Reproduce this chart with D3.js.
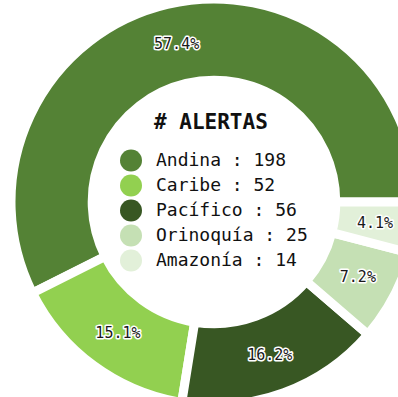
<!DOCTYPE html>
<html>
<head>
<meta charset="utf-8">
<script src="https://cdn.jsdelivr.net/npm/d3@7"></script>
<style>
  html, body { margin: 0; padding: 0; background: #fff; }
  svg { display: block; overflow: hidden; }
</style>
</head>
<body>
<svg id="chart" width="398" height="397"></svg>
<script>
// Alertas por región
const regiones = ["Andina", "Caribe", "Pacífico", "Orinoquía", "Amazonía"];
const alertas = [198, 52, 56, 25, 14];
const titulo = "# ALERTAS";

const paleta = ["#548235", "#92d050", "#385723", "#c5e0b4", "#e2f0d9"];

const W = 398, H = 397;
const cx = 214, cy = 202;
const R = 203, r = R * 0.6;

const svg = d3.select("#chart");
const g = svg.append("g").attr("transform", `translate(${cx},${cy})`);

const total = d3.sum(alertas);
const datos = regiones.map((region, i) => ({ region, valor: alertas[i] }));

const color = d3.scaleOrdinal().domain(regiones).range(paleta);

// Starts at 3 o'clock and runs counter-clockwise
const pie = d3.pie()
  .value(d => d.valor)
  .sort(null)
  .startAngle(Math.PI / 2)
  .endAngle(Math.PI / 2 - 2 * Math.PI);

const arcos = pie(datos);

const arc = d3.arc().innerRadius(r).outerRadius(R);
const arcEtiqueta = d3.arc().innerRadius(R * 0.8).outerRadius(R * 0.8);

g.selectAll("path.cuña")
  .data(arcos)
  .join("path")
  .attr("class", "cuña")
  .attr("d", arc)
  .attr("fill", d => color(d.data.region))
  .attr("stroke", "#fff")
  .attr("stroke-width", 9)
  .attr("stroke-linejoin", "miter");

const fmt = d3.format(".1f");

g.selectAll("text.pct")
  .data(arcos)
  .join("text")
  .attr("class", "pct")
  .attr("transform", d => `translate(${arcEtiqueta.centroid(d)})`)
  .attr("text-anchor", "middle")
  .attr("dominant-baseline", "central")
  .attr("font-family", "'DejaVu Sans Mono', monospace")
  .attr("font-size", 15)
  .attr("fill", "#1a1a1a")
  .attr("stroke", "#fff")
  .attr("stroke-width", 3)
  .attr("stroke-linejoin", "round")
  .attr("paint-order", "stroke")
  .text(d => fmt(d.data.valor / total * 100) + "%");

// Title and legend inside the hole
svg.append("text")
  .attr("x", 154)
  .attr("y", 128.5)
  .attr("font-family", "'DejaVu Sans Mono', monospace")
  .attr("font-weight", "bold")
  .attr("font-size", 21)
  .attr("fill", "#111")
  .text(titulo);

const y = d3.scalePoint().domain(regiones).range([166, 266]);

const leyenda = svg.append("g");
const item = leyenda.selectAll("g")
  .data(datos)
  .join("g");

item.append("circle")
  .attr("cx", 131)
  .attr("cy", d => y(d.region) - 5.5)
  .attr("r", 11)
  .attr("fill", d => color(d.region));

item.append("text")
  .attr("x", 156)
  .attr("y", d => y(d.region))
  .attr("font-family", "'DejaVu Sans Mono', monospace")
  .attr("font-size", 18)
  .attr("fill", "#111")
  .text(d => `${d.region} : ${d.valor}`);
</script>
</body>
</html>
